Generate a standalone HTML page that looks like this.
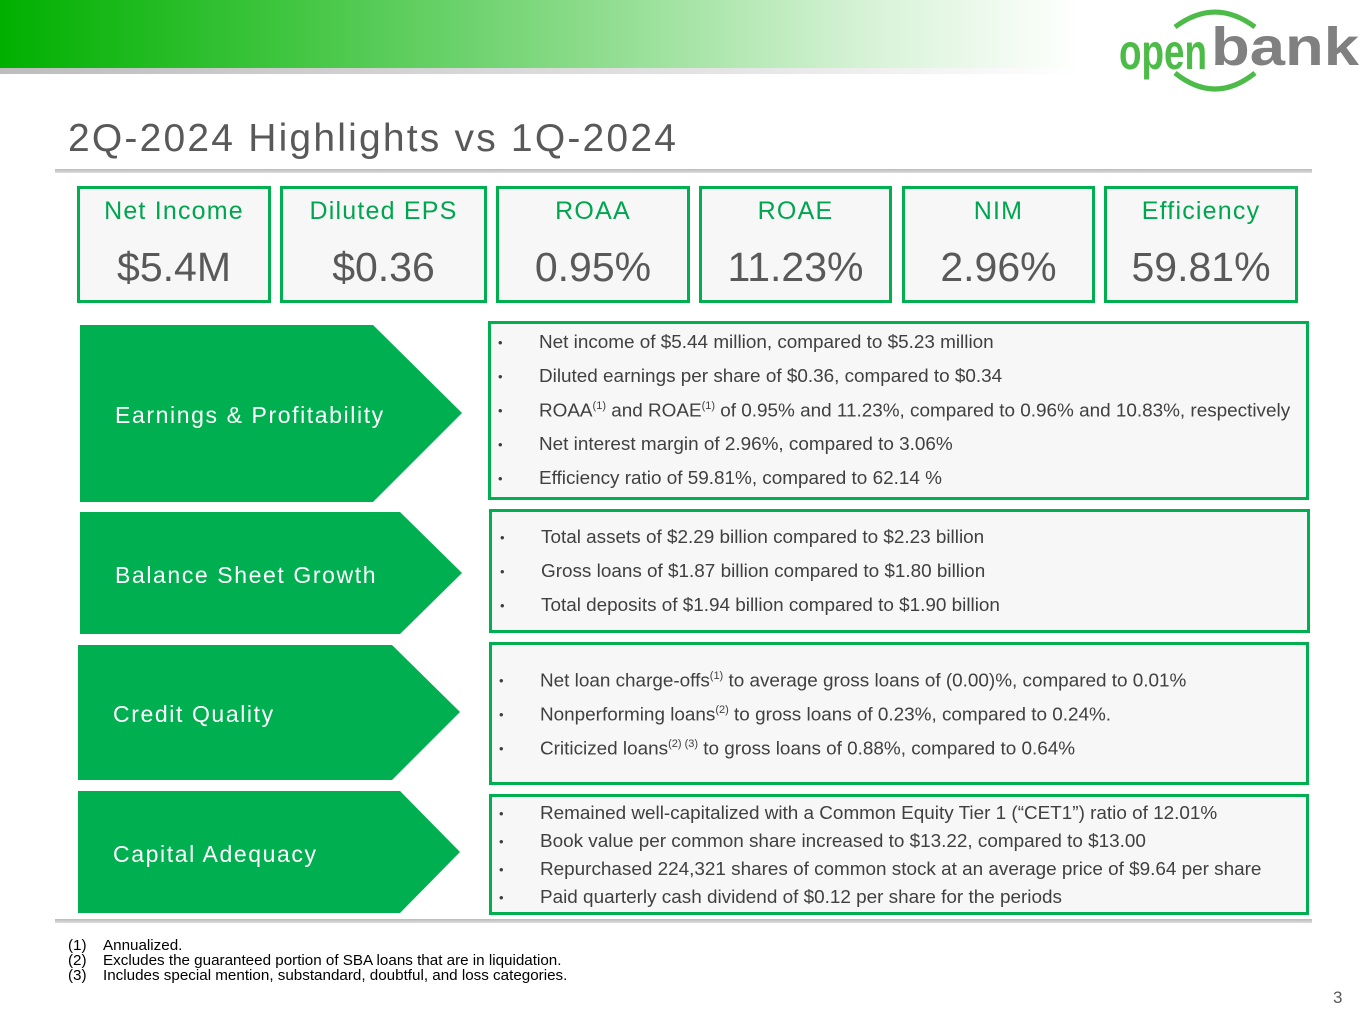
<!DOCTYPE html>
<html><head><meta charset="utf-8"><style>
body{margin:0;width:1365px;height:1024px;position:relative;background:#fff;font-family:"Liberation Sans",sans-serif;overflow:hidden}
.a{position:absolute}
.kpi{position:absolute;top:186px;border:3px solid #00b050;background:#f7f7f7;box-sizing:border-box;height:117px;text-align:center}
.kpi .t{color:#00a550;font-size:25px;margin-top:8px;letter-spacing:1.2px}
.kpi .v{color:#595959;font-size:41px;margin-top:18px}
.box{position:absolute;border:3px solid #00b050;background:#f7f7f7;box-sizing:border-box}
.box ul{list-style:none;margin:0;padding:0}
.box li{position:absolute;left:48px;font-size:18.9px;color:#404040;white-space:nowrap}
.box li:before{content:"•";position:absolute;left:-41px;font-size:13px;color:#404040;top:3px}
sup{font-size:11px}
.lbl{position:absolute;color:#fff;font-size:23px;letter-spacing:1.6px}
.fn{position:absolute;left:68px;font-size:15.2px;color:#000;line-height:15px}
.fn span{position:absolute;left:35px;white-space:nowrap}
</style></head><body>
<div class="a" style="left:0;top:0;width:1080px;height:68px;background:linear-gradient(90deg,#00b000 0%,#3cc43c 25%,#8ddc8d 55%,#d6f2d6 80%,#fff 100%)"></div>
<div class="a" style="left:0;top:68px;width:1080px;height:6px;background:linear-gradient(90deg,#bdbdbd,#e6e6e6 70%,#fff)"></div>
<div class="a" style="left:1115px;top:3px;width:250px;height:95px">
<svg width="250" height="95"><path d="M60 24 Q100 -6 140 24" stroke="#4cbb47" stroke-width="5" fill="none"/><path d="M60 70 Q100 102 140 70" stroke="#4cbb47" stroke-width="5" fill="none"/>
<text x="4" y="66" textLength="88" lengthAdjust="spacingAndGlyphs" font-family="Liberation Sans" font-weight="bold" font-size="50" fill="#4cbb47">open</text>
<text x="96" y="62" textLength="148" lengthAdjust="spacingAndGlyphs" font-family="Liberation Sans" font-weight="bold" font-size="54" fill="#808080">bank</text></svg></div>
<div class="a" style="left:68px;top:117px;font-size:39px;color:#595959;letter-spacing:2.2px">2Q-2024 Highlights vs 1Q-2024</div>
<div class="a" style="left:55px;top:169px;width:1257px;height:4px;background:linear-gradient(#bbb,#ddd)"></div>

<div class="kpi" style="left:77px;width:194px"><div class="t">Net Income</div><div class="v">$5.4M</div></div>
<div class="kpi" style="left:280px;width:207px"><div class="t">Diluted EPS</div><div class="v">$0.36</div></div>
<div class="kpi" style="left:496px;width:194px"><div class="t">ROAA</div><div class="v">0.95%</div></div>
<div class="kpi" style="left:699px;width:193px"><div class="t">ROAE</div><div class="v">11.23%</div></div>
<div class="kpi" style="left:902px;width:193px"><div class="t">NIM</div><div class="v">2.96%</div></div>
<div class="kpi" style="left:1104px;width:194px"><div class="t">Efficiency</div><div class="v">59.81%</div></div>

<svg class="a" style="left:0;top:0" width="1365" height="1024">
<polygon points="80,325 373,325 462,413 373,502 80,502" fill="#00b050"/>
<polygon points="80,512 400,512 462,573 400,634 80,634" fill="#00b050"/>
<polygon points="78,645 392,645 460,712 392,780 78,780" fill="#00b050"/>
<polygon points="78,791 400,791 460,852 400,913 78,913" fill="#00b050"/>
</svg>
<div class="lbl" style="left:115px;top:402px">Earnings &amp; Profitability</div>
<div class="lbl" style="left:115px;top:562px">Balance Sheet Growth</div>
<div class="lbl" style="left:113px;top:701px">Credit Quality</div>
<div class="lbl" style="left:113px;top:841px">Capital Adequacy</div>

<div class="box" style="left:488px;top:321px;width:821px;height:179px"><ul>
<li style="top:8px">Net income of $5.44 million, compared to $5.23 million</li>
<li style="top:42px">Diluted earnings per share of $0.36, compared to $0.34</li>
<li style="top:76px">ROAA<sup>(1)</sup> and ROAE<sup>(1)</sup> of 0.95% and 11.23%, compared to 0.96% and 10.83%, respectively</li>
<li style="top:110px">Net interest margin of 2.96%, compared to 3.06%</li>
<li style="top:144px">Efficiency ratio of 59.81%, compared to 62.14 %</li></ul></div>
<div class="box" style="left:489px;top:509px;width:821px;height:124px"><ul>
<li style="top:15px;left:49px">Total assets of $2.29 billion compared to $2.23 billion</li>
<li style="top:49px;left:49px">Gross loans of $1.87 billion compared to $1.80 billion</li>
<li style="top:83px;left:49px">Total deposits of $1.94 billion compared to $1.90 billion</li></ul></div>
<div class="box" style="left:489px;top:642px;width:820px;height:143px"><ul>
<li style="top:25px">Net loan charge-offs<sup>(1)</sup> to average gross loans of (0.00)%, compared to 0.01%</li>
<li style="top:59px">Nonperforming loans<sup>(2)</sup> to gross loans of 0.23%, compared to 0.24%.</li>
<li style="top:93px">Criticized loans<sup>(2) (3)</sup> to gross loans of 0.88%, compared to 0.64%</li></ul></div>
<div class="box" style="left:489px;top:794px;width:820px;height:121px"><ul>
<li style="top:6px">Remained well-capitalized with a Common Equity Tier 1 (“CET1”) ratio of 12.01%</li>
<li style="top:34px">Book value per common share increased to $13.22, compared to $13.00</li>
<li style="top:62px">Repurchased 224,321 shares of common stock at an average price of $9.64 per share</li>
<li style="top:90px">Paid quarterly cash dividend of $0.12 per share for the periods</li></ul></div>

<div class="a" style="left:55px;top:919px;width:1257px;height:4px;background:linear-gradient(#bbb,#ddd)"></div>
<div class="fn" style="top:938px">(1)<span>Annualized.</span></div>
<div class="fn" style="top:953px">(2)<span>Excludes the guaranteed portion of SBA loans that are in liquidation.</span></div>
<div class="fn" style="top:968px">(3)<span>Includes special mention, substandard, doubtful, and loss categories.</span></div>
<div class="a" style="left:1333px;top:988px;font-size:17px;color:#595959">3</div>
</body></html>
